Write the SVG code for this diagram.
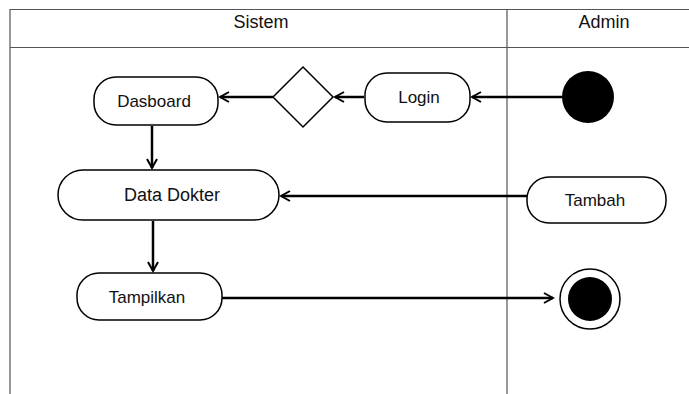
<svg xmlns="http://www.w3.org/2000/svg" width="689" height="394" viewBox="0 0 689 394">
  <style>
    .lane { fill: none; stroke: #555; stroke-width: 1.2; }
    .node { fill: #fff; stroke: #000; stroke-width: 1.5; }
    .label { font-family: "Liberation Sans", Arial, sans-serif; font-size: 17px; fill: #111; text-anchor: middle; dominant-baseline: central; }
    .head { font-size: 18px; }
    .edge { fill: none; stroke: #000; stroke-width: 2.5; }
  </style>
  <defs>
    <marker id="open" viewBox="0 0 12 12" refX="10" refY="6" markerWidth="12" markerHeight="12" markerUnits="userSpaceOnUse" orient="auto">
      <path d="M1,1 L10,6 L1,11" fill="none" stroke="#000" stroke-width="2"/>
    </marker>
  </defs>
  <rect width="689" height="394" fill="#fff"/>

  <!-- swimlanes -->
  <g id="lanes">
    <path class="lane" d="M10,394 V9.5 H689 M10,47.5 H689 M507,9.5 V394"/>
    <text class="label head" x="261" y="22">Sistem</text>
    <text class="label head" x="604" y="22">Admin</text>
  </g>

  <!-- connectors -->
  <g id="connectors">
    <line class="edge" x1="562" y1="97" x2="472" y2="97" marker-end="url(#open)"/>
    <line class="edge" x1="364" y1="97" x2="335" y2="97" marker-end="url(#open)"/>
    <line class="edge" x1="273" y1="97" x2="220" y2="97" marker-end="url(#open)"/>
    <line class="edge" x1="152" y1="126" x2="152" y2="168" marker-end="url(#open)"/>
    <line class="edge" x1="527" y1="196" x2="281" y2="196" marker-end="url(#open)"/>
    <line class="edge" x1="153" y1="221" x2="153" y2="271" marker-end="url(#open)"/>
    <line class="edge" x1="222" y1="298" x2="553" y2="298" marker-end="url(#open)"/>
  </g>

  <g id="start">
    <circle cx="588" cy="97" r="26" fill="#000"/>
  </g>
  <g id="login">
    <rect class="node" x="365" y="73" width="105" height="49" rx="22"/>
    <text class="label" x="419" y="97">Login</text>
  </g>
  <g id="decision">
    <polygon class="node" points="303,67 333,97 303,127 273,97"/>
  </g>
  <g id="dasboard">
    <rect class="node" x="94" y="77" width="124" height="48" rx="22"/>
    <text class="label" x="154" y="101">Dasboard</text>
  </g>
  <g id="data-dokter">
    <rect class="node" x="58" y="170" width="221" height="50" rx="25"/>
    <text class="label head" x="172" y="195">Data Dokter</text>
  </g>
  <g id="tambah">
    <rect class="node" x="527" y="177" width="139" height="46" rx="22"/>
    <text class="label" x="595" y="200">Tambah</text>
  </g>
  <g id="tampilkan">
    <rect class="node" x="77" y="273" width="145" height="47" rx="22"/>
    <text class="label" x="147" y="297">Tampilkan</text>
  </g>
  <g id="end">
    <circle cx="590" cy="299" r="30" fill="#fff" stroke="#000" stroke-width="1.5"/>
    <circle cx="590" cy="299" r="22" fill="#000"/>
  </g>
</svg>
